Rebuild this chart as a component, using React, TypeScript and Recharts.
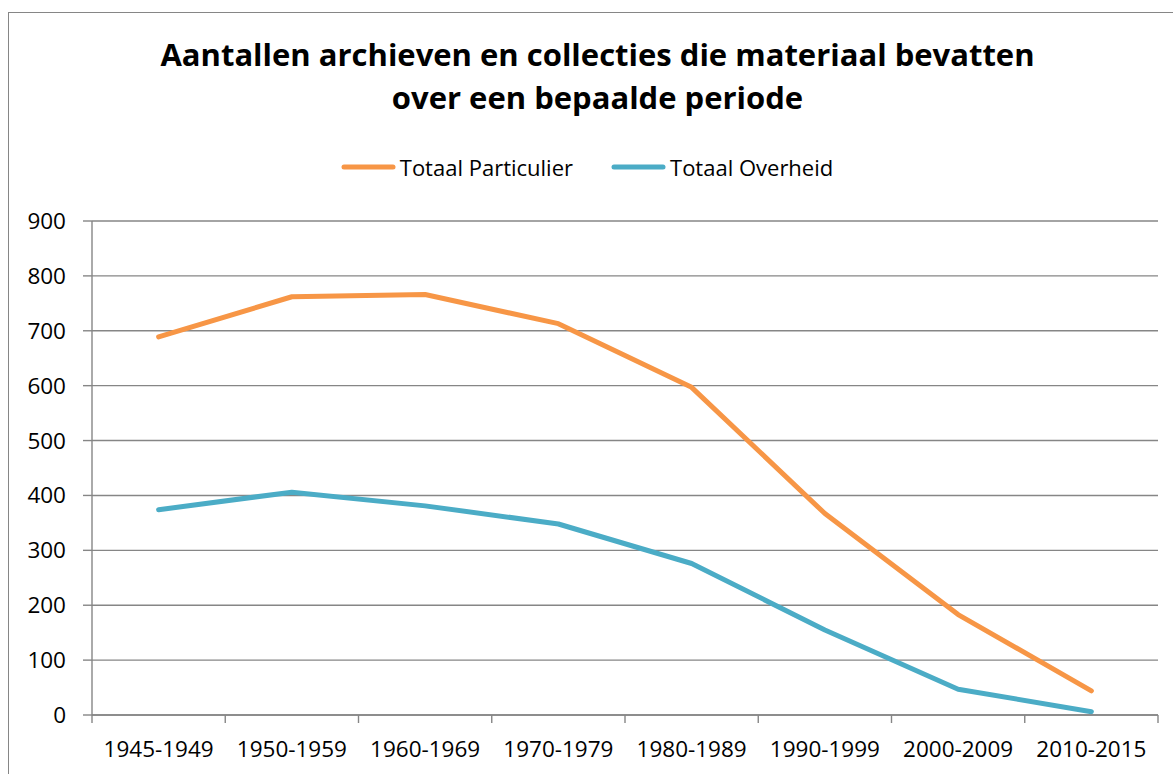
import React from "react";
import { LineChart, Line, XAxis, YAxis, CartesianGrid, Legend } from "recharts";

const PERIODS = [
  "1945-1949",
  "1950-1959",
  "1960-1969",
  "1970-1979",
  "1980-1989",
  "1990-1999",
  "2000-2009",
  "2010-2015",
];
const PARTICULIER = [689, 762, 766, 713, 597, 367, 183, 44];
const OVERHEID = [374, 406, 381, 348, 276, 155, 47, 6];
const Y_TICKS = [0, 100, 200, 300, 400, 500, 600, 700, 800, 900];
const SERIES_ORDER = ["Totaal Particulier", "Totaal Overheid"];

const GRAY = "#868686";
const ORANGE = "#F79646";
const BLUE = "#4BACC6";
const FONT = "'Open Sans', sans-serif";

// numeric x so the points sit in the middle of each band, Excel style
const data = PERIODS.map((period, i) => ({
  x: i + 0.5,
  period,
  particulier: PARTICULIER[i],
  overheid: OVERHEID[i],
}));
// whole numbers = tick marks between the bands, halves = category labels
const xTicks: number[] = [];
for (let i = 0; i <= PERIODS.length; i++) {
  xTicks.push(i);
  if (i < PERIODS.length) xTicks.push(i + 0.5);
}

function XTick({ x, y, payload }: any) {
  const v = payload.value;
  if (Number.isInteger(v)) {
    return <line x1={x} x2={x} y1={y} y2={y + 8} stroke={GRAY} strokeWidth={1.4} />;
  }
  return (
    <text x={x} y={y + 26} dy="0.71em" textAnchor="middle" fill="#000" fontSize={22.5} fontFamily={FONT}>
      {PERIODS[Math.floor(v)]}
    </text>
  );
}

function LegendContent({ payload }: any) {
  const items = [...(payload || [])].sort(
    (a: any, b: any) => SERIES_ORDER.indexOf(a.value) - SERIES_ORDER.indexOf(b.value)
  );
  return (
    <div
      style={{
        display: "flex",
        justifyContent: "center",
        alignItems: "center",
        height: 30,
        gap: 38,
        fontFamily: FONT,
        fontSize: 22,
        color: "#000",
      }}
    >
      {items.map((p: any) => (
        <div key={p.value} style={{ display: "flex", alignItems: "center" }}>
          <svg width={56} height={10} style={{ marginRight: 3 }}>
            <line x1={3} y1={5} x2={52} y2={5} stroke={p.color} strokeWidth={5} strokeLinecap="round" />
          </svg>
          <span>{p.value}</span>
        </div>
      ))}
    </div>
  );
}

export default function App() {
  return (
    <>
      <style>{"html,body{margin:0;overflow:hidden;background:#fff}"}</style>
      <div
        style={{
          position: "absolute",
          left: 8,
          top: 12,
          width: 1165,
          height: 770,
          borderTop: `1px solid ${GRAY}`,
          borderLeft: `1px solid ${GRAY}`,
          boxSizing: "border-box",
          fontFamily: FONT,
        }}
      >
        <div
          style={{
            position: "absolute",
            left: 20,
            width: 1137,
            top: 20,
            textAlign: "center",
            fontWeight: 700,
            fontSize: 31,
            lineHeight: "43px",
            color: "#000",
          }}
        >
          Aantallen archieven en collecties die materiaal bevatten
          <br />
          over een bepaalde periode
        </div>
        <LineChart width={1164} height={761} data={data} margin={{ top: 208, right: 15, bottom: 0, left: 0 }}>
          <CartesianGrid vertical={false} stroke={GRAY} strokeWidth={1.4} />
          <XAxis
            dataKey="x"
            type="number"
            domain={[0, PERIODS.length]}
            ticks={xTicks}
            interval={0}
            height={59}
            tick={<XTick />}
            tickSize={0}
            tickMargin={0}
            tickLine={false}
            axisLine={{ stroke: GRAY, strokeWidth: 1.4 }}
          />
          <YAxis
            domain={[0, 900]}
            ticks={Y_TICKS}
            interval={0}
            width={83}
            tickSize={9}
            tickMargin={17}
            tickLine={{ stroke: GRAY, strokeWidth: 1.4 }}
            axisLine={{ stroke: GRAY, strokeWidth: 1.4 }}
            tick={{ fill: "#000", fontSize: 22.5, fontFamily: FONT }}
          />
          <Legend
            layout="horizontal"
            verticalAlign="middle"
            align="center"
            wrapperStyle={{ top: 139, left: 0, width: 1156, height: 30 }}
            content={<LegendContent />}
          />
          <Line
            type="linear"
            dataKey="particulier"
            name="Totaal Particulier"
            stroke={ORANGE}
            strokeWidth={5}
            strokeLinecap="round"
            strokeLinejoin="round"
            dot={false}
            activeDot={false}
            isAnimationActive={false}
          />
          <Line
            type="linear"
            dataKey="overheid"
            name="Totaal Overheid"
            stroke={BLUE}
            strokeWidth={5}
            strokeLinecap="round"
            strokeLinejoin="round"
            dot={false}
            activeDot={false}
            isAnimationActive={false}
          />
        </LineChart>
      </div>
    </>
  );
}
